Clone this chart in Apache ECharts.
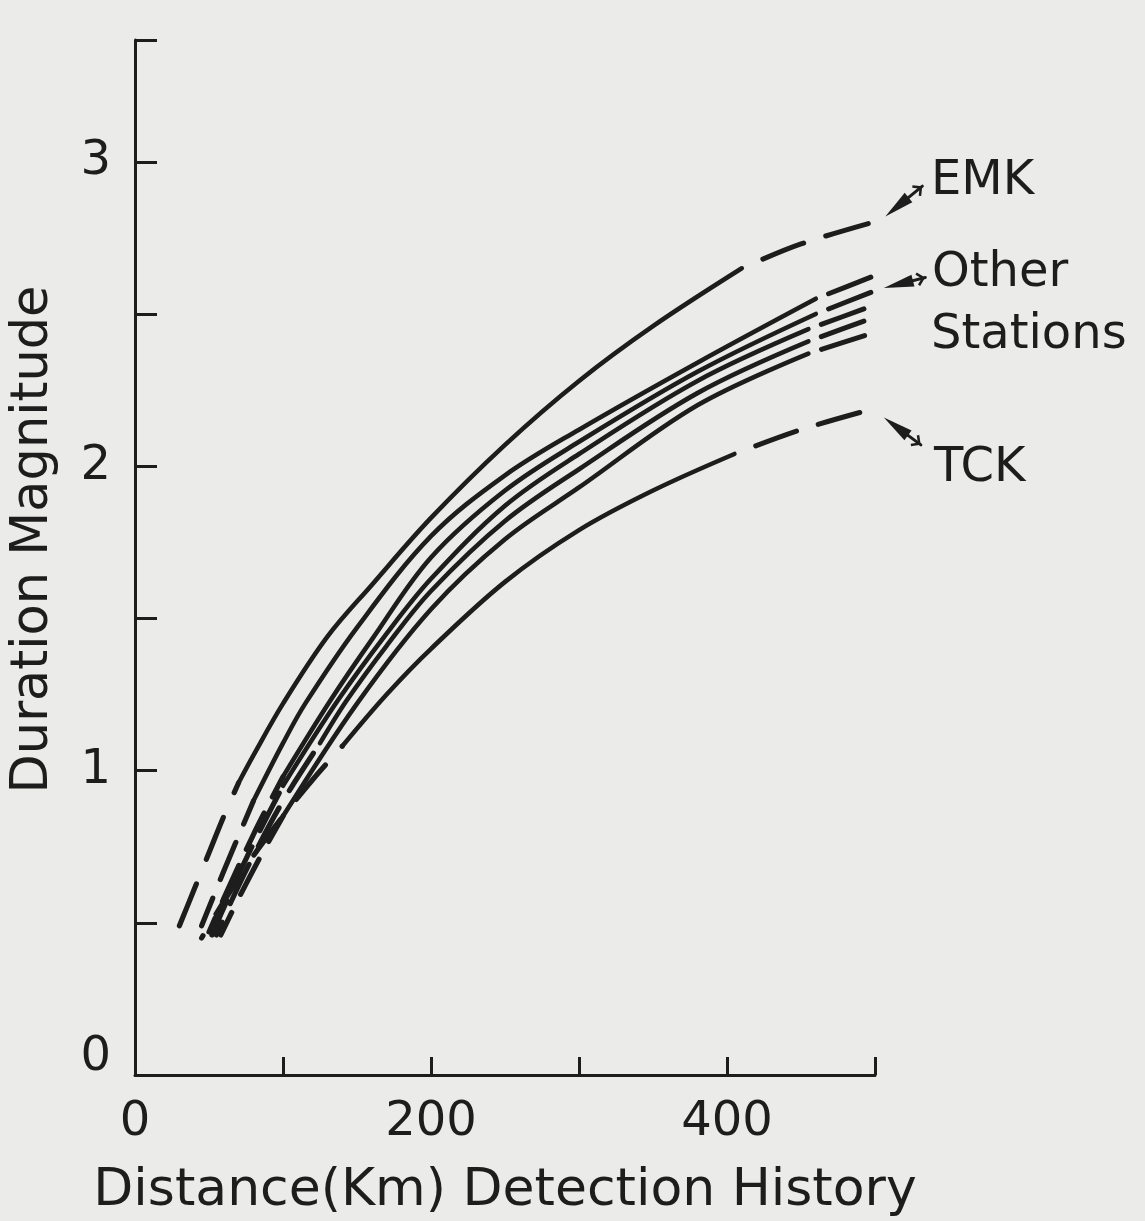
<!DOCTYPE html>
<html>
<head>
<meta charset="utf-8">
<title>Duration Magnitude vs Distance</title>
<script src="https://cdn.jsdelivr.net/npm/echarts@6/dist/echarts.min.js"></script>
<style>
  html, body { margin: 0; padding: 0; background: #ebebe9; }
  #chart { width: 1145px; height: 1221px; }
</style>
</head>
<body>
<div id="chart"></div>
<script>
// curves: distance (km) -> duration magnitude
const emkKm  = [30, 40, 50, 60, 70, 80, 100, 130, 160, 200, 250, 300, 350, 410, 450, 505];
const emkMag = [0.49, 0.61, 0.73, 0.85, 0.96, 1.05, 1.22, 1.44, 1.61, 1.83, 2.07, 2.28, 2.46, 2.65, 2.73, 2.81];

const o1Km  = [45, 60, 80, 100, 115, 150, 200, 250, 300, 380, 460, 502];
const o1Mag = [0.49, 0.67, 0.90, 1.09, 1.22, 1.47, 1.77, 1.97, 2.12, 2.34, 2.55, 2.63];

const o2Km  = [50, 60, 80, 100, 132, 160, 200, 250, 300, 380, 460, 502];
const o2Mag = [0.47, 0.58, 0.79, 0.98, 1.23, 1.43, 1.70, 1.92, 2.08, 2.31, 2.50, 2.58];

const o3Km  = [52, 60, 80, 100, 137, 170, 200, 250, 300, 380, 455, 500];
const o3Mag = [0.46, 0.55, 0.76, 0.95, 1.23, 1.45, 1.63, 1.87, 2.04, 2.28, 2.45, 2.53];

const o4Km  = [55, 65, 80, 100, 125, 143, 170, 200, 250, 300, 380, 455, 500];
const o4Mag = [0.46, 0.57, 0.72, 0.90, 1.09, 1.23, 1.41, 1.59, 1.82, 1.99, 2.24, 2.41, 2.49];

const o5Km  = [58, 70, 85, 100, 150, 200, 250, 300, 380, 455, 500];
const o5Mag = [0.46, 0.58, 0.72, 0.85, 1.22, 1.53, 1.76, 1.93, 2.20, 2.37, 2.44];

const tckKm  = [45, 60, 80, 100, 120, 140, 170, 200, 250, 300, 350, 405, 450, 500];
const tckMag = [0.45, 0.57, 0.72, 0.85, 0.97, 1.08, 1.25, 1.40, 1.62, 1.79, 1.92, 2.04, 2.12, 2.19];

// km range of the detection history drawn solid, the rest is dashed
const solidFrom = { EMK: 70, O1: 80, O2: 100, O3: 100, O4: 125, O5: 100, TCK: 140 };
const solidTo   = { EMK: 410, O1: 460, O2: 460, O3: 455, O4: 455, O5: 455, TCK: 405 };

// label arrows: [tail km, tail mag, tip km, tip mag]
const arrows = [
  [532, 2.92, 507, 2.82],
  [534, 2.62, 506, 2.585],
  [531, 2.07, 506, 2.16]
];

const xTicks  = [0, 100, 200, 300, 400, 500];
const xLabels = [0, 200, 400];
const yTicks  = [0, 0.5, 1, 1.5, 2, 2.5, 3, 3.4];
const yLabels = [0, 1, 2, 3];

const ink = '#1d1d1d';
const font = 'DejaVu Sans';

const stations = [
  { id: 'EMK', km: emkKm, mag: emkMag, low: [45, 27], lowOff: 0,  high: [44, 23] },
  { id: 'O1',  km: o1Km,  mag: o1Mag,  low: [40, 20], lowOff: 10, high: [45, 14] },
  { id: 'O2',  km: o2Km,  mag: o2Mag,  low: [40, 18], lowOff: 25, high: [45, 14] },
  { id: 'O3',  km: o3Km,  mag: o3Mag,  low: [42, 18], lowOff: 5,  high: [45, 14] },
  { id: 'O4',  km: o4Km,  mag: o4Mag,  low: [44, 20], lowOff: 30, high: [45, 14] },
  { id: 'O5',  km: o5Km,  mag: o5Mag,  low: [40, 20], lowOff: 15, high: [45, 14] },
  { id: 'TCK', km: tckKm, mag: tckMag, low: [45, 25], lowOff: 42, high: [43, 23] }
];

function part(km, mag, lo, hi) {
  let out = [];
  for (let i = 0; i < km.length; i++) {
    if (km[i] >= lo && km[i] <= hi) out.push([km[i], mag[i]]);
  }
  return out;
}

function lineSeries(data, type, offset, width) {
  return {
    type: 'line',
    data: data,
    smooth: 0.35,
    showSymbol: false,
    silent: true,
    clip: false,
    lineStyle: { color: ink, width: width || 4.6, type: type, dashOffset: offset || 0, cap: 'round' }
  };
}

let series = [];
stations.forEach(s => {
  let from = solidFrom[s.id], to = solidTo[s.id];
  series.push(lineSeries(part(s.km, s.mag, -Infinity, from), s.low, s.lowOff, 5.2));
  series.push(lineSeries(part(s.km, s.mag, from, to), 'solid'));
  series.push(lineSeries(part(s.km, s.mag, to, Infinity), s.high, s.high[0], 5));
});

let chart = echarts.init(document.getElementById('chart'), null, { renderer: 'canvas' });

chart.setOption({
  backgroundColor: '#ebebe9',
  animation: false,
  grid: { left: 135, right: 270, top: 40, bottom: 146, containLabel: false, outerBoundsMode: 'none' },
  xAxis: {
    type: 'value',
    min: 0,
    max: 500,
    interval: 100,
    name: 'Distance(Km) Detection History',
    nameLocation: 'middle',
    nameGap: 90,
    nameTextStyle: { color: ink, fontFamily: font, fontSize: 52 },
    axisLine: { lineStyle: { color: ink, width: 3 } },
    axisTick: { inside: true, length: 18, lineStyle: { color: ink, width: 3 }, customValues: xTicks },
    axisLabel: { color: ink, fontFamily: font, fontSize: 48, margin: 24, customValues: xLabels },
    splitLine: { show: false }
  },
  yAxis: {
    type: 'value',
    min: 0,
    max: 3.4,
    name: 'Duration Magnitude',
    nameLocation: 'middle',
    nameGap: 76,
    nameTextStyle: { color: ink, fontFamily: font, fontSize: 51, padding: [0, 0, 0, 36] },
    axisLine: { lineStyle: { color: ink, width: 3 } },
    axisTick: { inside: true, length: 22, lineStyle: { color: ink, width: 3 }, customValues: yTicks },
    axisLabel: {
      color: ink, fontFamily: font, fontSize: 48, margin: 24, customValues: yLabels,
      formatter: v => (v === 0 ? '{z|0}' : String(v)),
      rich: { z: { color: ink, fontFamily: font, fontSize: 48, padding: [0, 0, 34, 0] } }
    },
    splitLine: { show: false }
  },
  series: series
});

// station labels and their arrows (arrow ends placed through the axes)
let gfx = [
  { type: 'text', left: 931, top: 158, style: { text: 'EMK', fill: ink, font: '48px "DejaVu Sans"' } },
  { type: 'text', left: 932, top: 250, style: { text: 'Other', fill: ink, font: '48px "DejaVu Sans"' } },
  { type: 'text', left: 931, top: 312, style: { text: 'Stations', fill: ink, font: '48px "DejaVu Sans"' } },
  { type: 'text', left: 934, top: 445, style: { text: 'TCK', fill: ink, font: '48px "DejaVu Sans"' } }
];
arrows.forEach(a => {
  let t = chart.convertToPixel({ gridIndex: 0 }, [a[0], a[1]]);
  let p = chart.convertToPixel({ gridIndex: 0 }, [a[2], a[3]]);
  let dx = t[0] - p[0], dy = t[1] - p[1];
  let len = Math.hypot(dx, dy), ux = dx / len, uy = dy / len;
  let bx = p[0] + ux * 30, by = p[1] + uy * 30;
  gfx.push({
    type: 'line', silent: true,
    shape: { x1: t[0], y1: t[1], x2: p[0] + ux * 10, y2: p[1] + uy * 10 },
    style: { stroke: ink, lineWidth: 3, lineCap: 'round' }
  });
  gfx.push({
    type: 'polygon', silent: true,
    shape: { points: [[p[0], p[1]], [bx - uy * 6, by + ux * 6], [bx + uy * 6, by - ux * 6]] },
    style: { fill: ink }
  });
  // small fletching at the tail
  gfx.push({
    type: 'polyline', silent: true,
    shape: { points: [[t[0] - ux * 8 - uy * 6, t[1] - uy * 8 + ux * 6], [t[0] - ux * 2, t[1] - uy * 2], [t[0] - ux * 8 + uy * 6, t[1] - uy * 8 - ux * 6]] },
    style: { stroke: ink, lineWidth: 2.5, fill: null }
  });
});
chart.setOption({ graphic: gfx });
</script>
</body>
</html>
